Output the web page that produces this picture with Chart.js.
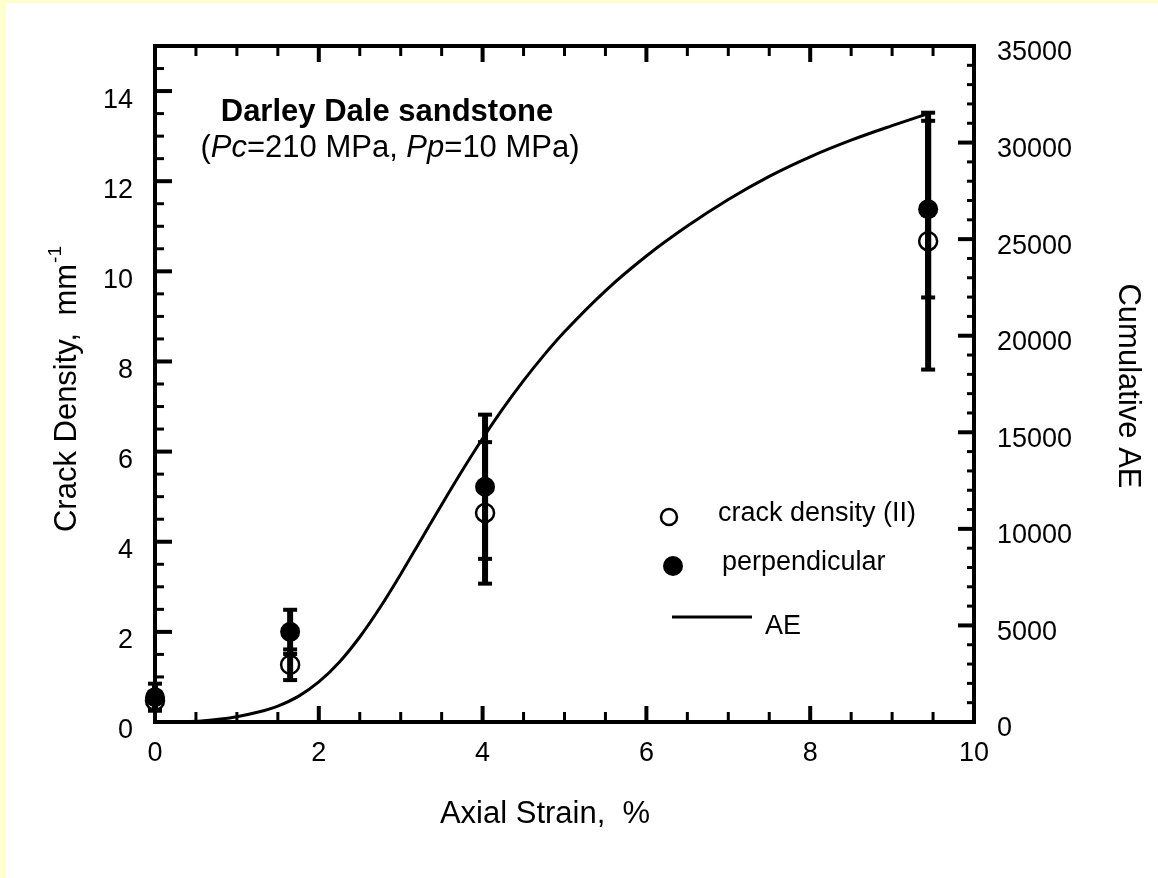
<!DOCTYPE html>
<html>
<head>
<meta charset="utf-8">
<script src="https://cdn.jsdelivr.net/npm/chart.js@4.4.1/dist/chart.umd.min.js"></script>
<style>
  html, body { margin: 0; padding: 0; background: #ffffff; }
  canvas { display: block; }
</style>
</head>
<body>
<canvas id="graficoGrietas" width="1158" height="878"></canvas>
<script>
// ========== DATOS ==========
const strainPuntos = [0, 1.65, 4.03, 9.44];
const densidadParalela = [0.47, 1.27, 4.64, 10.67];
const errorParalela = [0.2, 0.34, 1.57, 2.85];
const densidadPerpendicular = [0.55, 2.0, 5.22, 11.38];
const errorPerpendicular = [0.3, 0.49, 1.6, 1.96];

const strainAE = [0.35, 0.6, 0.8, 1.0, 1.25, 1.5, 1.75, 2.0, 2.25, 2.5, 2.75, 3.0, 3.25, 3.5, 3.75, 4.0,
  4.25, 4.5, 4.75, 5.0, 5.5, 6.0, 6.5, 7.0, 7.5, 8.0, 8.5, 9.0, 9.44];
const valoresAE = [0, 64, 153, 276, 501, 826, 1326, 2076, 3095, 4401, 5939, 7651, 9451, 11251, 13007, 14676,
  16238, 17676, 18995, 20201, 22326, 24126, 25676, 27051, 28251, 29263, 30125, 30875, 31500];

const ticksX = [0, 2, 4, 6, 8, 10];
const ticksDensidad = [0, 2, 4, 6, 8, 10, 12, 14];
const ticksAE = [0, 5000, 10000, 15000, 20000, 25000, 30000, 35000];

const fuente = '"Liberation Sans", Arial, sans-serif';

// ========== FONDO ==========
const fondo = {
  id: 'fondo',
  beforeDraw(chart) {
    const ctx = chart.ctx;
    ctx.save();
    ctx.fillStyle = '#ffffcc';
    ctx.fillRect(0, 0, chart.width, chart.height);
    ctx.fillStyle = '#ffffff';
    ctx.fillRect(6, 3, chart.width - 6, chart.height - 3);
    ctx.restore();
  }
};

// ========== MARCO Y TICKS HACIA ADENTRO ==========
function tick(ctx, x1, y1, x2, y2, ancho) {
  ctx.lineWidth = ancho;
  ctx.beginPath();
  ctx.moveTo(x1, y1);
  ctx.lineTo(x2, y2);
  ctx.stroke();
}

const marco = {
  id: 'marco',
  afterDraw(chart) {
    const { ctx, chartArea: { left, right, top, bottom }, scales } = chart;
    ctx.save();
    ctx.strokeStyle = '#000';

    for (let v = 0; v <= 10; v += 0.5) {
      const px = scales.x.getPixelForValue(v);
      const mayor = v % 2 === 0;
      const largo = mayor ? 16 : 10;
      tick(ctx, px, bottom, px, bottom - largo, mayor ? 4 : 3);
      tick(ctx, px, top, px, top + largo, mayor ? 4 : 3);
    }
    for (let v = 0; v <= 15; v += 0.5) {
      const py = scales.y.getPixelForValue(v);
      const mayor = v % 2 === 0;
      tick(ctx, left, py, left + (mayor ? 17 : 9), py, mayor ? 4 : 3);
    }
    for (let v = 0; v <= 35000; v += 1000) {
      const py = scales.yAE.getPixelForValue(v);
      const mayor = v % 5000 === 0;
      tick(ctx, right, py, right - (mayor ? 16 : 7), py, mayor ? 4 : 3);
    }

    ctx.lineWidth = 4;
    ctx.strokeRect(left, top, right - left, bottom - top);
    ctx.restore();
  }
};

// ========== BARRAS DE ERROR ==========
const barrasError = {
  id: 'barrasError',
  afterDatasetsDraw(chart) {
    const { ctx, scales: { x, y } } = chart;
    ctx.save();
    ctx.strokeStyle = '#000';
    const dibujar = (valores, errores) => {
      strainPuntos.forEach((s, i) => {
        const px = x.getPixelForValue(s);
        const arriba = y.getPixelForValue(valores[i] + errores[i]);
        const abajo = y.getPixelForValue(valores[i] - errores[i]);
        tick(ctx, px, arriba, px, abajo, 6);
        tick(ctx, px - 7, arriba, px + 7, arriba, 4);
        tick(ctx, px - 7, abajo, px + 7, abajo, 4);
      });
    };
    dibujar(densidadParalela, errorParalela);
    dibujar(densidadPerpendicular, errorPerpendicular);
    ctx.restore();
  }
};

// ========== TEXTOS Y LEYENDA ==========
const textos = {
  id: 'textos',
  afterDraw(chart) {
    const ctx = chart.ctx;
    ctx.save();
    ctx.fillStyle = '#000';
    ctx.textBaseline = 'middle';

    // titulo
    ctx.textAlign = 'center';
    ctx.font = `bold 31px ${fuente}`;
    ctx.fillText('Darley Dale sandstone', 387, 112);

    const partes = [
      ['(', false], ['Pc', true], ['=210 MPa, ', false], ['Pp', true], ['=10 MPa)', false]
    ];
    const fNormal = `31px ${fuente}`;
    const fItalica = `italic 31px ${fuente}`;
    let total = 0;
    partes.forEach(([t, it]) => { ctx.font = it ? fItalica : fNormal; total += ctx.measureText(t).width; });
    let cx = 390 - total / 2;
    ctx.textAlign = 'left';
    partes.forEach(([t, it]) => {
      ctx.font = it ? fItalica : fNormal;
      ctx.fillText(t, cx, 148);
      cx += ctx.measureText(t).width;
    });

    // eje x
    ctx.textAlign = 'center';
    ctx.font = `31px ${fuente}`;
    ctx.fillText('Axial Strain,  %', 545, 814);

    // eje y izquierdo
    ctx.save();
    ctx.translate(67, 398);
    ctx.rotate(-Math.PI / 2);
    ctx.font = `31px ${fuente}`;
    const principal = 'Crack Density,  mm';
    const w = ctx.measureText(principal).width;
    ctx.fillText(principal, 0, 0);
    ctx.textAlign = 'left';
    ctx.font = `19px ${fuente}`;
    ctx.fillText('-1', w / 2 + 1, -11);
    ctx.restore();

    // eje y derecho
    ctx.save();
    ctx.translate(1128, 386);
    ctx.rotate(Math.PI / 2);
    ctx.font = `31px ${fuente}`;
    ctx.textAlign = 'center';
    ctx.fillText('Cumulative AE', 0, 0);
    ctx.restore();

    // leyenda
    const ds = chart.data.datasets;
    ctx.strokeStyle = '#000';
    ctx.lineWidth = ds[1].borderWidth;
    ctx.fillStyle = ds[1].backgroundColor;
    ctx.beginPath();
    ctx.arc(669, 517, 8, 0, Math.PI * 2);
    ctx.fill();
    ctx.stroke();

    ctx.fillStyle = ds[0].backgroundColor;
    ctx.beginPath();
    ctx.arc(673, 566, 10, 0, Math.PI * 2);
    ctx.fill();

    tick(ctx, 672, 617, 752, 617, ds[2].borderWidth);

    ctx.fillStyle = '#000';
    ctx.textAlign = 'left';
    ctx.font = `27px ${fuente}`;
    ctx.fillText(ds[1].label, 718, 514);
    ctx.fillText(ds[0].label, 722, 563);
    ctx.fillText(ds[2].label, 765, 627);

    ctx.restore();
  }
};

// ========== GRAFICO ==========
const estiloTicks = {
  color: '#000',
  font: { family: fuente, size: 27 },
  autoSkip: false,
  maxRotation: 0,
  callback: v => String(v)
};

new Chart(document.getElementById('graficoGrietas'), {
  type: 'scatter',
  data: {
    datasets: [
      {
        label: 'perpendicular',
        data: strainPuntos.map((s, i) => ({ x: s, y: densidadPerpendicular[i] })),
        yAxisID: 'y',
        pointStyle: 'circle',
        pointRadius: 10,
        backgroundColor: '#000',
        borderColor: '#000',
        borderWidth: 0,
        clip: false,
        order: 0
      },
      {
        label: 'crack density (II)',
        data: strainPuntos.map((s, i) => ({ x: s, y: densidadParalela[i] })),
        yAxisID: 'y',
        pointStyle: 'circle',
        pointRadius: 9,
        backgroundColor: '#fff',
        borderColor: '#000',
        borderWidth: 2.5,
        clip: false,
        order: 1
      },
      {
        label: 'AE',
        data: strainAE.map((s, i) => ({ x: s, y: valoresAE[i] })),
        yAxisID: 'yAE',
        showLine: true,
        borderColor: '#000',
        borderWidth: 3,
        pointRadius: 0,
        cubicInterpolationMode: 'monotone',
        fill: false,
        order: 2
      }
    ]
  },
  options: {
    responsive: false,
    animation: false,
    layout: { padding: { top: 46, left: 0, right: 0, bottom: 0 } },
    plugins: { legend: { display: false }, tooltip: { enabled: false } },
    scales: {
      x: {
        type: 'linear', position: 'bottom', min: 0, max: 10,
        grid: { display: false, drawTicks: false },
        border: { display: false },
        ticks: { ...estiloTicks, padding: 15 },
        afterBuildTicks: s => { s.ticks = ticksX.map(v => ({ value: v })); },
        afterFit: s => { s.height = 156; }
      },
      y: {
        type: 'linear', position: 'left', min: 0, max: 15,
        grid: { display: false, drawTicks: false },
        border: { display: false },
        ticks: { ...estiloTicks, padding: 22, labelOffset: 9 },
        afterBuildTicks: s => { s.ticks = ticksDensidad.map(v => ({ value: v })); },
        afterFit: s => { s.width = 155; }
      },
      yAE: {
        type: 'linear', position: 'right', min: 0, max: 35000,
        grid: { display: false, drawTicks: false },
        border: { display: false },
        ticks: { ...estiloTicks, padding: 23, labelOffset: 7 },
        afterBuildTicks: s => { s.ticks = ticksAE.map(v => ({ value: v })); },
        afterFit: s => { s.width = 184; }
      }
    }
  },
  plugins: [fondo, barrasError, marco, textos]
});
</script>
</body>
</html>
